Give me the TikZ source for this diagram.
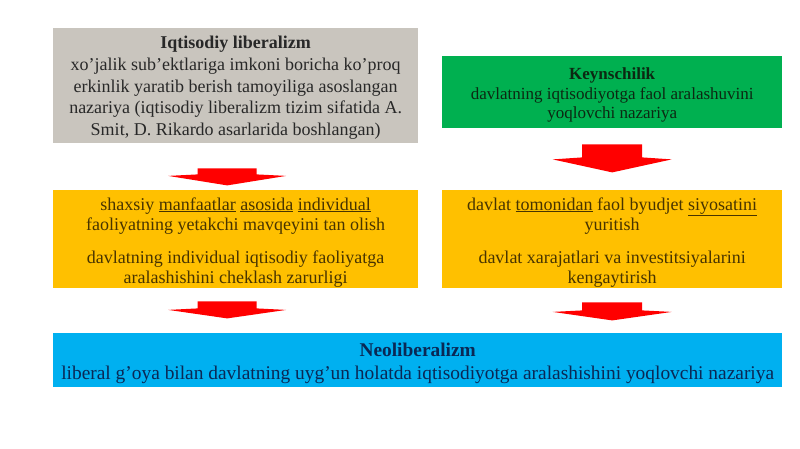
\documentclass[tikz,border=0pt]{standalone}
\usepackage{fontspec}
\setmainfont{Liberation Serif}
\definecolor{boxgray}{RGB}{201,197,190}
\definecolor{boxgreen}{RGB}{0,176,80}
\definecolor{boxyellow}{RGB}{255,192,0}
\definecolor{boxblue}{RGB}{0,176,240}
\definecolor{arrred}{RGB}{255,0,0}
\definecolor{txgray}{RGB}{40,40,40}
\definecolor{txgreen}{RGB}{12,40,18}
\definecolor{txyellow}{RGB}{72,52,0}
\definecolor{txblue}{RGB}{10,40,85}
\begin{document}
\begin{tikzpicture}[x=1pt,y=-1pt,
  box/.style={anchor=north west,inner sep=0pt},
  boxtext/.style={inner sep=0pt,align=center},
  blockarrow/.style={fill=arrred,draw=none}]
\useasboundingbox[fill=white] (0,0) rectangle (800,449);

% boxes
\node[box,fill=boxgray,minimum width=365pt,minimum height=115pt] (liberal) at (53,28) {};
\node[box,fill=boxgreen,minimum width=340pt,minimum height=72pt] (keyns) at (442,56) {};
\node[box,fill=boxyellow,minimum width=365pt,minimum height=98pt] (midL) at (53,190) {};
\node[box,fill=boxyellow,minimum width=340pt,minimum height=98pt] (midR) at (442,190) {};
\node[box,fill=boxblue,minimum width=729pt,minimum height=54pt] (neo) at (53,333) {};

% texts
\node[boxtext,text=txgray,font=\fontsize{18}{21.7}\selectfont] (liberalText)
  at ([yshift=-2pt]liberal.center)
  {\textbf{Iqtisodiy liberalizm}\\
   xo’jalik sub’ektlariga imkoni boricha ko’proq\\
   erkinlik yaratib berish tamoyiliga asoslangan\\
   nazariya (iqtisodiy liberalizm tizim sifatida A.\\
   Smit, D. Rikardo asarlarida boshlangan)};

\node[boxtext,text=txgreen,font=\fontsize{17}{19.5}\selectfont] (keynsText)
  at ([yshift=-3pt]keyns.center)
  {\textbf{Keynschilik}\\
   davlatning iqtisodiyotga faol aralashuvini\\
   yoqlovchi nazariya};

\node[boxtext,text=txyellow,font=\fontsize{18}{20}\selectfont] (midLText)
  at ([yshift=-3pt]midL.center)
  {shaxsiy \underline{manfaatlar} \underline{asosida} \underline{individual}\\
   faoliyatning yetakchi mavqeyini tan olish\\[13pt]
   davlatning individual iqtisodiy faoliyatga\\
   aralashishini cheklash zarurligi};

\node[boxtext,text=txyellow,font=\fontsize{18}{20}\selectfont] (midRText)
  at ([yshift=-3pt]midR.center)
  {davlat \underline{tomonidan} faol byudjet \underline{siyosatini}\\
   yuritish\\[13pt]
   davlat xarajatlari va investitsiyalarini\\
   kengaytirish};

\node[boxtext,text=txblue,font=\fontsize{19.4}{23}\selectfont] (neoText)
  at ([yshift=-3pt]neo.center)
  {\textbf{Neoliberalizm}\\
   liberal g’oya bilan davlatning uyg’un holatda iqtisodiyotga aralashishini yoqlovchi nazariya};

% block arrows between boxes
\path (liberal.south) ++(-8.5,0) coordinate (a1);
\fill[blockarrow] (a1) ++(-29.5,25) -- ++(59,0) -- ++(0,6) -- ++(29.5,1.5)
  -- ++(-59,9.5) -- ++(-59,-9.5) -- ++(29.5,-1.5) -- cycle;

\path (keyns.south) coordinate (a2);
\fill[blockarrow] (a2) ++(-30,16) -- ++(60,0) -- ++(0,13) -- ++(29.5,2)
  -- ++(-59.5,13) -- ++(-59.5,-13) -- ++(29.5,-2) -- cycle;

\path (midL.south) ++(-8.5,0) coordinate (a3);
\fill[blockarrow] (a3) ++(-29.5,13) -- ++(59,0) -- ++(0,7) -- ++(29.5,1.5)
  -- ++(-59,8.5) -- ++(-59,-8.5) -- ++(29.5,-1.5) -- cycle;

\path (midR.south) coordinate (a4);
\fill[blockarrow] (a4) ++(-30,14) -- ++(60,0) -- ++(0,8) -- ++(29.5,1.5)
  -- ++(-59.5,8.5) -- ++(-59.5,-8.5) -- ++(29.5,-1.5) -- cycle;
\end{tikzpicture}
\end{document}
